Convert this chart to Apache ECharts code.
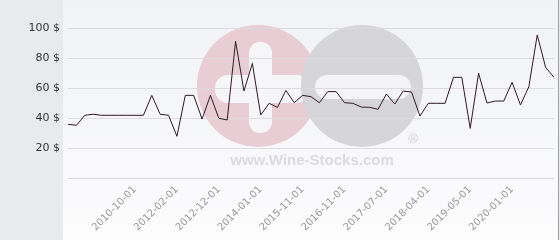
<!DOCTYPE html>
<html>
<head>
<meta charset="utf-8">
<script src="https://cdn.jsdelivr.net/npm/echarts@6/dist/echarts.min.js"></script>
<style>
html,body{margin:0;padding:0;background:#e8ebee;}
#c{width:560px;height:240px;}
</style>
</head>
<body>
<div id="c"></div>
<script>
const categories = [
  '2009-06-01','2009-09-01','2009-12-01','2010-01-01','2010-03-01','2010-05-01','2010-07-01','2010-08-01','2010-10-01',
  '2011-01-01','2011-04-01','2011-07-01','2011-10-01','2012-02-01',
  '2012-04-01','2012-06-01','2012-08-01','2012-10-01','2012-12-01',
  '2013-03-01','2013-05-01','2013-07-01','2013-10-01','2014-01-01',
  '2014-05-01','2014-09-01','2015-01-01','2015-06-01','2015-11-01',
  '2016-01-01','2016-04-01','2016-06-01','2016-09-01','2016-11-01',
  '2017-01-01','2017-03-01','2017-04-01','2017-06-01','2017-07-01',
  '2017-09-01','2017-11-01','2018-01-01','2018-02-01','2018-04-01',
  '2018-06-01','2018-09-01','2018-11-01','2019-02-01','2019-05-01',
  '2019-06-01','2019-08-01','2019-09-01','2019-11-01','2020-01-01',
  '2020-03-01','2020-05-01','2020-07-01','2020-09-01','2020-11-01'
];
const prices = [
  35.8, 35.1, 41.8, 42.5, 41.8, 41.8, 41.8, 41.8, 41.8, 41.8,
  55.1, 42.5, 41.8, 27.8, 55.1, 55.1, 39.3, 55.1, 39.8, 38.7,
  91.1, 58.0, 76.4, 42.0, 49.8, 47.1, 58.4, 50.2, 55.1, 54.2,
  50.2, 57.6, 57.6, 50.2, 49.8, 47.3, 47.1, 45.8, 56.0, 49.3,
  58.0, 57.3, 41.3, 49.8, 49.8, 49.8, 67.1, 67.1, 33.1, 69.8,
  50.0, 51.3, 51.3, 63.8, 48.7, 60.9, 95.3, 73.8, 67.1
];
const shownXLabels = ['2010-10-01','2012-02-01','2012-12-01','2014-01-01','2015-11-01',
  '2016-11-01','2017-07-01','2018-04-01','2019-05-01','2020-01-01'];
const yTicks = [0, 20, 40, 60, 80, 100];

const chart = echarts.init(document.getElementById('c'), null, {renderer:'canvas'});
chart.setOption({
  backgroundColor: '#e8ebee',
  animation: false,
  graphic: [
    {type:'rect', z:-20, shape:{x:63, y:0, width:495, height:240},
     style:{fill:new echarts.graphic.LinearGradient(0,0,0,1,[{offset:0,color:'#f1f2f6'},{offset:1,color:'#fcfcfd'}])}},
    {type:'line', z:-19, shape:{x1:558.5, y1:0, x2:558.5, y2:240}, style:{stroke:'#a0a0a0', lineWidth:1}},
    {type:'circle', z:-18, shape:{cx:258, cy:86, r:61}, style:{fill:'#e8cdd4'}},
    {type:'rect', z:-17, shape:{x:249, y:42, width:23, height:91, r:11}, style:{fill:'#f6f6f9'}},
    {type:'rect', z:-17, shape:{x:215, y:75, width:95, height:28, r:13}, style:{fill:'#f6f6f9'}},
    {type:'circle', z:-16, shape:{cx:362, cy:86, r:61}, style:{fill:'#d6d6d9'}},
    {type:'rect', z:-15, shape:{x:315, y:75, width:96, height:24, r:12}, style:{fill:'#f4f4f7'}},
    {type:'text', z:-15, x:312, y:161, style:{text:'www.Wine-Stocks.com', fill:'#dcdcdf', font:'bold 15px "Liberation Sans", Arial, sans-serif', align:'center', verticalAlign:'middle'}},
    {type:'text', z:-15, x:413, y:139, style:{text:'®', fill:'#d0d0d3', font:'13px "Liberation Sans", Arial, sans-serif', align:'center', verticalAlign:'middle'}}
  ],
  grid: {left: 68, right: 6, top: 28, bottom: 62, containLabel: false},
  xAxis: {
    type: 'category',
    data: categories,
    boundaryGap: false,
    axisLine: {show: false},
    axisTick: {show: false},
    splitLine: {show: false},
    axisLabel: {
      rotate: 45,
      margin: 10,
      fontSize: 10,
      color: '#999',
      fontFamily: '"DejaVu Sans", sans-serif',
      interval: (i, v) => shownXLabels.includes(v)
    }
  },
  yAxis: {
    type: 'value',
    min: yTicks[0],
    max: yTicks[yTicks.length - 1],
    interval: 20,
    axisLine: {show: false},
    axisTick: {show: false},
    splitLine: {lineStyle: {color: '#dcdcdf', width: 1}},
    axisLabel: {
      margin: 8,
      fontSize: 11,
      color: '#333',
      fontFamily: '"DejaVu Sans", sans-serif',
      formatter: v => v === 0 ? '' : v + ' $'
    }
  },
  series: [{
    type: 'line',
    data: prices,
    showSymbol: false,
    symbol: 'none',
    lineStyle: {color: '#2e1a24', width: 1},
    z: 5
  }]
});
</script>
</body>
</html>
